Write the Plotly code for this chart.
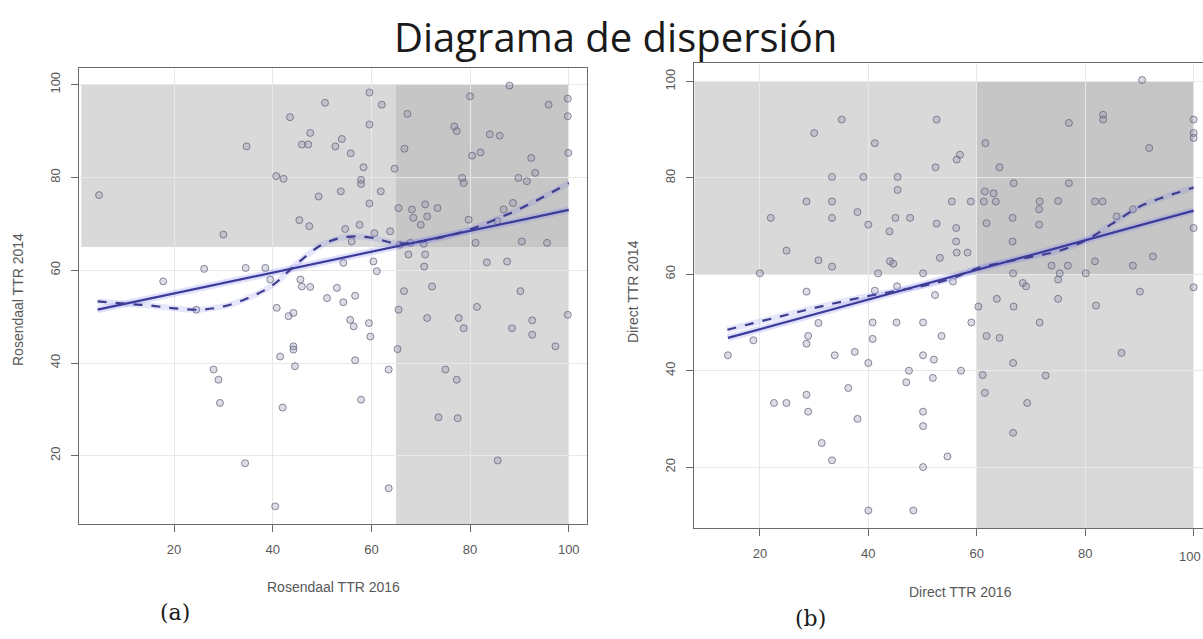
import plotly.graph_objects as go

# ---------------- data: panel (a) Rosendaal ----------------
a_x = [4.8, 17.8, 24.5, 26.1, 28.0, 29.0, 29.3, 30.0, 34.4, 34.5, 34.7, 38.5, 39.5, 40.5, 40.7,
       40.8, 41.5, 42.0, 42.2, 43.2, 43.5, 44.2, 44.2, 44.2, 44.5, 45.4, 45.6, 45.9, 45.9, 47.2,
       47.4, 47.6, 47.6, 49.3, 50.6, 51.0, 52.7, 53.0, 53.8, 54.0, 54.3, 54.3, 54.7, 55.7, 55.8,
       56.0, 56.4, 56.7, 56.7, 57.6, 57.9, 57.9, 57.9, 58.4, 59.5, 59.6, 59.6, 59.6, 59.8, 60.4,
       60.6, 61.1, 61.9, 62.1, 63.5, 63.5, 63.8, 64.7, 65.3, 65.5, 65.5, 65.8, 66.6, 66.7, 67.3,
       67.5, 67.9, 68.2, 68.5, 70.0, 70.6, 70.7, 70.9, 70.9, 71.3, 71.3, 72.3, 73.4, 73.6, 75.0,
       76.8, 77.3, 77.3, 77.5, 77.7, 78.4, 78.7, 78.7, 79.7, 80.0, 80.4, 81.1, 81.4, 82.1, 83.4,
       84.0, 85.5, 85.6, 86.0, 86.8, 87.5, 88.0, 88.5, 88.7, 89.8, 90.2, 90.5, 91.5, 92.4, 92.6,
       92.6, 93.2, 95.6, 95.9, 97.3, 99.8, 99.8, 99.9, 99.8]
a_y = [76.2, 57.6, 51.5, 60.3, 38.6, 36.4, 31.4, 67.7, 18.4, 60.5, 86.7, 60.5, 58.0, 9.1, 80.3,
       51.9, 41.4, 30.4, 79.7, 50.1, 93.0, 50.8, 43.6, 42.9, 39.3, 70.8, 58.0, 56.5, 87.1, 87.1,
       69.5, 56.4, 89.6, 75.9, 96.1, 54.0, 86.7, 56.2, 77.0, 88.3, 61.6, 53.1, 68.9, 49.3, 85.2,
       66.2, 47.9, 54.5, 40.6, 69.8, 79.5, 78.6, 32.1, 82.2, 48.6, 98.3, 91.4, 74.4, 45.7, 61.9,
       68.0, 59.8, 77.0, 95.7, 38.6, 13.0, 68.4, 81.9, 43.0, 73.4, 51.5, 65.5, 55.5, 86.2, 93.7,
       63.4, 65.9, 73.1, 71.3, 69.8, 65.7, 60.8, 74.2, 63.4, 71.6, 49.7, 56.5, 73.4, 28.3, 38.6,
       91.0, 90.0, 36.4, 28.1, 49.7, 79.9, 78.8, 47.5, 70.9, 97.5, 84.7, 65.9, 52.1, 85.4, 61.7,
       89.3, 70.6, 19.0, 89.0, 73.1, 61.9, 99.8, 47.5, 74.5, 79.9, 55.5, 66.2, 79.2, 84.2, 49.2,
       46.1, 81.0, 65.9, 95.7, 43.6, 97.0, 93.2, 85.3, 50.4]
a_lin_x = [4.5, 100.0]
a_lin_y = [51.5, 73.0]
a_loess_x = [4.5, 10, 15, 20, 25, 30, 35, 40, 45, 50, 55, 60, 65, 70, 75, 80, 85, 90, 95, 100]
a_loess_y = [53.3, 52.8, 52.4, 51.8, 51.5, 52.2, 54.0, 56.8, 61.5, 65.5, 67.2, 67.0, 65.8,
             66.2, 67.3, 68.8, 70.9, 73.2, 75.9, 78.8]
a_cut = 65          # threshold for both axes in (a)
a_xrange = [0.73, 103.7]
a_yrange = [5.3, 103.6]

# ---------------- data: panel (b) Direct ----------------
b_x = [14.1, 18.8, 20.0, 22.0, 22.6, 24.9, 24.9, 28.6, 28.6, 28.6, 28.6, 28.9, 28.9, 30.0, 30.8,
       30.8, 31.4, 33.3, 33.3, 33.3, 33.3, 33.3, 33.8, 35.1, 36.3, 37.5, 38.0, 38.0, 39.1, 40.0,
       40.0, 40.0, 40.8, 40.8, 41.2, 41.2, 41.8, 43.9, 44.0, 44.6, 45.0, 45.2, 45.3, 45.4, 45.4,
       47.0, 47.5, 47.7, 48.3, 50.1, 50.1, 50.1, 50.1, 50.1, 50.1, 51.9, 52.1, 52.3, 52.4, 52.6,
       52.6, 53.2, 53.5, 54.6, 55.4, 55.6, 56.2, 56.2, 56.3, 56.3, 56.9, 57.1, 58.3, 58.9, 59.0,
       60.3, 61.1, 61.3, 61.5, 61.5, 61.6, 61.8, 61.8, 63.1, 63.5, 63.7, 64.2, 64.2, 66.6, 66.6,
       66.7, 66.7, 66.7, 66.8, 66.8, 68.5, 69.1, 69.3, 71.5, 71.5, 71.6, 71.6, 72.7, 73.8, 75.0,
       75.0, 75.0, 75.3, 76.8, 77.0, 77.0, 80.1, 81.8, 81.8, 82.0, 83.2, 83.3, 83.3, 85.8, 86.7,
       88.8, 88.8, 90.1, 90.5, 91.8, 92.5, 100.0, 100.0, 100.0, 100.0, 100.0]
b_y = [43.2, 46.3, 60.2, 71.7, 33.3, 33.3, 64.9, 75.1, 56.4, 45.6, 35.0, 47.2, 31.5, 89.3, 62.9,
       49.9, 25.0, 80.2, 75.1, 71.7, 61.6, 21.4, 43.2, 92.1, 36.4, 43.9, 72.9, 30.0, 80.2, 70.3,
       41.6, 11.0, 50.0, 46.6, 87.2, 56.6, 60.2, 68.9, 62.7, 62.2, 71.7, 50.0, 57.5, 80.2, 77.5,
       37.6, 40.0, 71.7, 11.0, 60.2, 50.0, 43.2, 31.5, 28.5, 20.0, 38.5, 42.3, 55.7, 82.2, 92.1,
       70.5, 63.4, 47.2, 22.2, 75.1, 58.5, 69.6, 66.8, 83.8, 64.5, 84.8, 40.0, 64.5, 75.1, 50.0,
       53.3, 39.1, 75.1, 77.2, 35.4, 87.2, 70.6, 47.2, 76.8, 75.1, 54.9, 82.2, 46.8, 71.7, 66.8,
       60.2, 41.6, 27.1, 78.9, 53.3, 58.2, 57.5, 33.3, 73.5, 70.3, 75.1, 50.0, 39.0, 61.8, 75.2,
       58.9, 54.9, 60.2, 61.8, 91.4, 78.9, 60.2, 75.1, 62.7, 53.5, 75.1, 93.1, 92.1, 72.0, 43.7,
       73.5, 61.8, 56.4, 100.3, 86.2, 63.7, 92.1, 89.3, 88.3, 69.6, 57.3]
b_lin_x = [14.1, 100.0]
b_lin_y = [46.8, 73.2]
b_loess_x = [14, 20, 25, 30, 35, 40, 45, 50, 55, 60, 65, 70, 75, 80, 85, 90, 95, 100]
b_loess_y = [48.5, 50.2, 51.6, 53.0, 54.3, 55.5, 56.5, 57.6, 59.0, 61.2, 62.5, 63.6, 64.8,
             67.0, 70.5, 74.0, 76.2, 78.0]
b_cut = 60
b_xrange = [7.9, 101.73]
b_yrange = [7.3, 103.9]

tick_vals = [20, 40, 60, 80, 100]
tick_text = ["20", "40", "60", "80", "100"]

W, H = 1203, 639

def px_x(p):
    return p / W

def px_y(p):
    return 1 - p / H

fig = go.Figure()

LINE_COL = "#3b3b9c"
MARK = dict(symbol="circle", size=7, color="rgba(140,140,165,0.30)",
            line=dict(color="rgba(95,95,125,0.72)", width=1))

for xs, ys, lx, ly, qx, qy, xa, ya in [
    (a_x, a_y, a_lin_x, a_lin_y, a_loess_x, a_loess_y, "x", "y"),
    (b_x, b_y, b_lin_x, b_lin_y, b_loess_x, b_loess_y, "x2", "y2"),
]:
    fig.add_trace(go.Scatter(x=xs, y=ys, mode="markers", marker=MARK,
                             xaxis=xa, yaxis=ya, hoverinfo="skip"))
    fig.add_trace(go.Scatter(x=lx, y=ly, mode="lines",
                             line=dict(color="rgba(130,130,235,0.25)", width=7),
                             xaxis=xa, yaxis=ya, hoverinfo="skip"))
    fig.add_trace(go.Scatter(x=qx, y=qy, mode="lines", line_shape="spline",
                             line=dict(color="rgba(130,130,235,0.20)", width=6),
                             xaxis=xa, yaxis=ya, hoverinfo="skip"))
    fig.add_trace(go.Scatter(x=lx, y=ly, mode="lines",
                             line=dict(color=LINE_COL, width=2.2),
                             xaxis=xa, yaxis=ya, hoverinfo="skip"))
    fig.add_trace(go.Scatter(x=qx, y=qy, mode="lines", line_shape="spline",
                             line=dict(color="#3d3d8f", width=2.2, dash="dash"),
                             xaxis=xa, yaxis=ya, hoverinfo="skip"))

BAND = "#d9d9d9"
OVER = "#c6c6c6"
shapes = []
for cut, xr, yr, xref, yref, x0 in [
    (a_cut, a_xrange, a_yrange, "x", "y", 1.2),
    (b_cut, b_xrange, b_yrange, "x2", "y2", b_xrange[0]),
]:
    shapes.append(dict(type="rect", xref=xref, yref=yref, x0=x0, x1=100, y0=cut, y1=100,
                       fillcolor=BAND, line_width=0, layer="below"))
    shapes.append(dict(type="rect", xref=xref, yref=yref, x0=cut, x1=100, y0=yr[0], y1=100,
                       fillcolor=BAND, line_width=0, layer="below"))
    shapes.append(dict(type="rect", xref=xref, yref=yref, x0=cut, x1=100, y0=cut, y1=100,
                       fillcolor=OVER, line_width=0, layer="below"))

tick_font = dict(family="Liberation Sans, Arial", size=13, color="#585858")
axis_common = dict(showline=True, linecolor="#6a6a6a", linewidth=1.3,
                   ticks="outside", ticklen=7, tickcolor="#6a6a6a", tickwidth=1,
                   tickvals=tick_vals, ticktext=tick_text, tickfont=tick_font,
                   showgrid=True, gridcolor="#e8e8e8", gridwidth=1, zeroline=False,
                   ticklabelstandoff=6)

fig.update_layout(
    width=W, height=H,
    margin=dict(l=0, r=0, t=0, b=0),
    paper_bgcolor="white", plot_bgcolor="white",
    showlegend=False,
    shapes=shapes,
    xaxis=dict(axis_common, domain=[px_x(79), px_x(587)], range=a_xrange, anchor="y",
               mirror=True),
    yaxis=dict(axis_common, domain=[px_y(524), px_y(68)], range=a_yrange, anchor="x",
               mirror=True, tickangle=-90),
    xaxis2=dict(axis_common, domain=[px_x(694.3), 1.0], range=b_xrange, anchor="y2",
                mirror=True),
    yaxis2=dict(axis_common, domain=[px_y(528.3), px_y(62.7)], range=b_yrange, anchor="x2",
                mirror=False, tickangle=-90),
)

lab_font = dict(family="Liberation Sans, Arial", size=14, color="#585858")
ann = [
    dict(text="Diagrama de dispersión", x=px_x(615), y=px_y(36), xref="paper", yref="paper",
         showarrow=False, xanchor="center", yanchor="middle",
         font=dict(family="Open Sans", size=40, color="#1a1a1a")),
    dict(text="Rosendaal TTR 2016", x=px_x(333), y=px_y(587), xref="paper", yref="paper",
         showarrow=False, xanchor="center", yanchor="middle", font=lab_font),
    dict(text="Rosendaal TTR 2014", x=px_x(18), y=px_y(300), xref="paper", yref="paper",
         showarrow=False, xanchor="center", yanchor="middle", textangle=-90, font=lab_font),
    dict(text="Direct TTR 2016", x=px_x(960), y=px_y(592), xref="paper", yref="paper",
         showarrow=False, xanchor="center", yanchor="middle", font=lab_font),
    dict(text="Direct TTR 2014", x=px_x(633), y=px_y(292), xref="paper", yref="paper",
         showarrow=False, xanchor="center", yanchor="middle", textangle=-90, font=lab_font),
    # last x tick label of panel (b), sitting at the page edge as in the original
    dict(text=tick_text[-1], x=px_x(1203), y=px_y(556), xref="paper", yref="paper",
         showarrow=False, xanchor="right", yanchor="middle", font=tick_font),
    dict(text="(a)", x=px_x(175), y=px_y(612), xref="paper", yref="paper",
         showarrow=False, xanchor="center", yanchor="middle",
         font=dict(family="DejaVu Serif", size=22, color="#1a1a1a")),
    dict(text="(b)", x=px_x(810), y=px_y(618), xref="paper", yref="paper",
         showarrow=False, xanchor="center", yanchor="middle",
         font=dict(family="DejaVu Serif", size=22, color="#1a1a1a")),
]
fig.update_layout(annotations=ann)

fig.write_html("out.html",
               config={"displayModeBar": False},
               post_script="document.body.style.margin='0';document.body.style.overflow='hidden';")
